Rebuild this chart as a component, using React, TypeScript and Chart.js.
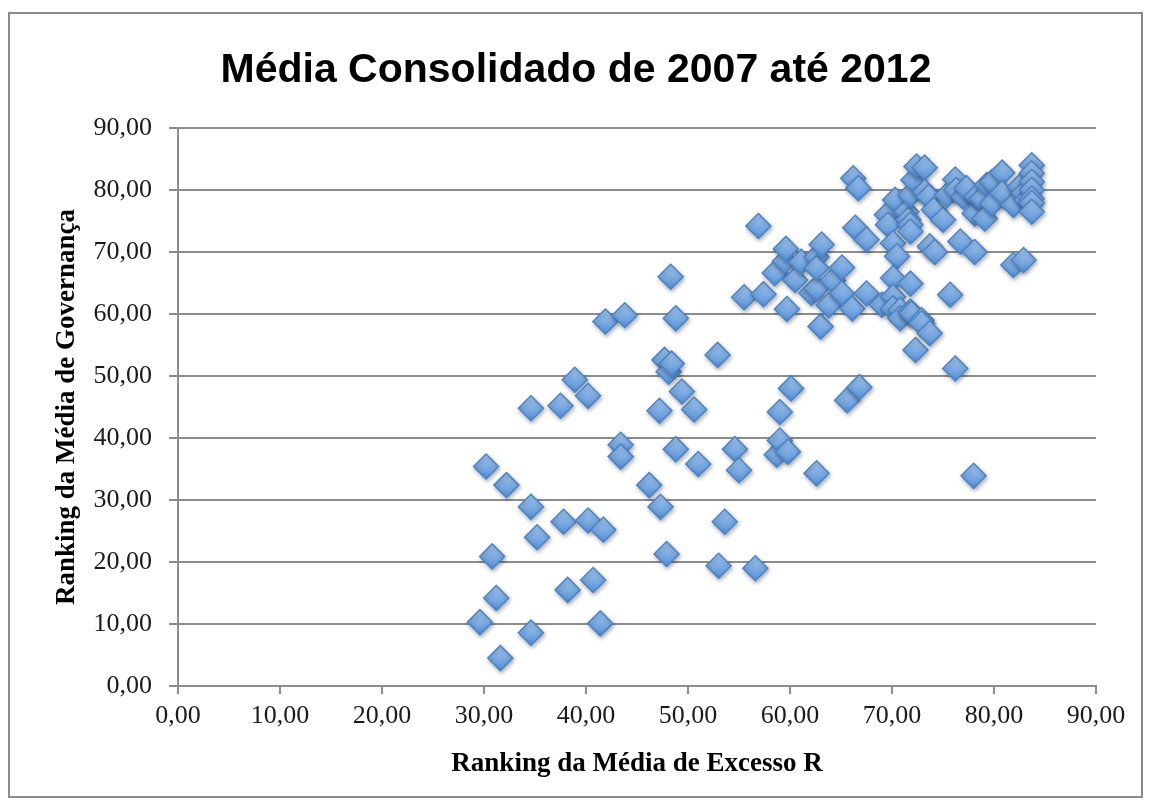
import { useEffect, useRef } from 'react';
import { Chart, registerables } from 'chart.js';

Chart.register(...registerables);

const chartTitle = 'Média Consolidado de 2007 até 2012';
const xAxisTitle = 'Ranking da Média de Excesso R';
const yAxisTitle = 'Ranking da Média de Governança';
const tickValues = [0, 10, 20, 30, 40, 50, 60, 70, 80, 90];

const excessoR = [
  29.6, 30.2, 30.8, 31.2, 31.6, 32.2, 34.6, 34.6, 34.6, 35.2,
  37.5, 37.8, 38.2, 38.9, 40.2, 40.2, 40.7, 41.4, 41.7, 41.9,
  43.4, 43.4, 43.8, 46.2, 47.2, 47.3, 47.7, 47.9, 48.1, 48.3,
  48.4, 48.8, 48.8, 49.4, 50.6, 51.0, 52.9, 53.0, 53.6, 54.6,
  55.0, 55.5, 56.6, 56.9, 57.4, 58.5, 58.7, 59.0, 59.0, 59.5,
  59.6, 59.7, 59.8, 60.1, 60.5, 61.1, 62.1, 62.6, 62.6, 62.6,
  62.6, 63.0, 63.1, 63.8, 64.2, 65.1, 65.1, 65.6, 66.4, 66.1,
  66.2, 66.7, 66.8, 67.5, 67.5, 69.0, 69.5, 69.6, 70.1, 70.5,
  70.1, 70.1, 70.1, 70.3, 70.8, 70.8, 71.4, 71.6, 71.8, 71.8,
  71.8, 71.8, 71.8, 71.9, 72.1, 72.3, 72.4, 72.9, 72.9, 73.2,
  73.2, 73.6, 73.7, 73.7, 74.1, 74.2, 75.0, 75.4, 75.7, 76.2,
  76.2, 76.3, 76.7, 77.0, 77.3, 78.0, 78.1, 78.1, 78.3, 78.8,
  79.1, 79.3, 79.8, 79.8, 80.8, 80.8, 81.9, 81.9, 82.5, 82.9,
  82.9, 83.2, 83.7, 83.7, 83.7, 83.7, 83.7, 83.7, 83.7,
];

const governanca = [
  10.3, 35.4, 20.9, 14.2, 4.5, 32.4, 44.8, 28.9, 8.6, 24.0,
  45.2, 26.5, 15.5, 49.4, 46.8, 26.7, 17.1, 10.1, 25.2, 58.8,
  38.9, 37.0, 59.8, 32.4, 44.4, 28.9, 52.6, 21.3, 50.7, 66.0,
  52.0, 38.2, 59.3, 47.5, 44.6, 35.8, 53.4, 19.4, 26.5, 38.2,
  34.8, 62.7, 19.0, 74.2, 63.2, 66.6, 37.3, 44.2, 39.6, 68.5,
  70.5, 60.8, 37.8, 48.0, 65.5, 68.4, 63.4, 64.1, 69.2, 67.4,
  34.3, 58.0, 71.2, 61.4, 65.4, 67.5, 63.3, 46.1, 73.9, 60.9,
  81.9, 80.3, 48.2, 72.0, 63.3, 61.5, 76.0, 74.4, 71.4, 69.3,
  65.8, 62.8, 60.9, 78.4, 60.6, 59.3, 76.5, 75.2, 74.4, 73.3,
  79.2, 64.9, 60.4, 60.1, 81.6, 54.2, 83.8, 59.0, 58.5, 83.6,
  79.7, 78.9, 70.9, 56.9, 76.8, 70.0, 75.2, 79.2, 63.1, 51.2,
  81.7, 80.0, 71.7, 78.9, 80.3, 33.9, 70.0, 76.2, 78.9, 78.6,
  75.4, 80.8, 81.3, 77.8, 82.8, 79.5, 77.6, 67.9, 80.5, 79.5,
  68.7, 78.4, 84.0, 82.7, 81.3, 80.0, 78.6, 77.9, 76.5,
];

const fmt = (v: number) => v.toFixed(2).replace('.', ',');

export default function App() {
  const ref = useRef<HTMLCanvasElement>(null);

  useEffect(() => {
    document.body.style.margin = '0';
    const canvas = ref.current;
    if (!canvas) return;

    const framePlugin = {
      id: 'frame',
      beforeDraw(chart: any) {
        const c = chart.ctx;
        c.save();
        c.fillStyle = '#ffffff';
        c.fillRect(0, 0, chart.width, chart.height);
        c.strokeStyle = '#8c8c8c';
        c.lineWidth = 2;
        c.strokeRect(9, 13, 1133, 784);
        c.fillStyle = '#000000';
        c.font = 'bold 41px "Liberation Sans", Arial, sans-serif';
        c.textAlign = 'center';
        c.textBaseline = 'alphabetic';
        c.fillText(chartTitle, 576, 82);
        c.restore();
      },
      beforeDatasetsDraw(chart: any) {
        const c = chart.ctx;
        c.save();
        c.shadowColor = 'rgba(0,0,0,0.3)';
        c.shadowBlur = 4;
        c.shadowOffsetX = 1;
        c.shadowOffsetY = 2;
      },
      afterDatasetsDraw(chart: any) {
        chart.ctx.restore();
      },
    };

    const points = excessoR.map((x, i) => ({ x, y: governanca[i] }));

    const chart = new Chart(canvas, {
      type: 'scatter',
      data: {
        datasets: [
          {
            data: points,
            pointStyle: 'rectRot',
            pointRadius: 12.5,
            pointHoverRadius: 12.5,
            borderWidth: 1.5,
            borderColor: '#4b84c6',
            backgroundColor: (ctx: any) => {
              const chart = ctx.chart;
              const fallback = '#72a5e2';
              if (!ctx.parsed || !chart.scales || !chart.scales.y) return fallback;
              const py = chart.scales.y.getPixelForValue(ctx.parsed.y);
              if (!Number.isFinite(py)) return fallback;
              const g = chart.ctx.createLinearGradient(0, py - 12, 0, py + 12);
              g.addColorStop(0, '#a3c8f3');
              g.addColorStop(1, '#5891d6');
              return g;
            },
          },
        ],
      },
      options: {
        responsive: false,
        animation: false,
        events: [],
        layout: { padding: { left: 30, right: 55, top: 128, bottom: 20 } },
        plugins: {
          legend: { display: false },
          title: { display: false },
          tooltip: { enabled: false },
        },
        scales: {
          x: {
            type: 'linear',
            min: 0,
            max: 90,
            afterFit: (s: any) => { s.height = 99; },
            afterBuildTicks: (s: any) => { s.ticks = tickValues.map((v) => ({ value: v })); },
            grid: { drawOnChartArea: false, drawTicks: true, tickLength: 8, color: '#8c8c8c', lineWidth: 2 },
            border: { display: true, color: '#8c8c8c', width: 2 },
            ticks: {
              color: '#1a1a1a',
              padding: 7,
              maxRotation: 0,
              font: { family: '"Liberation Serif", "Times New Roman", serif', size: 26 },
              callback: (v: any) => fmt(Number(v)),
            },
            title: {
              display: true,
              text: xAxisTitle,
              color: '#000000',
              padding: { top: 0, bottom: 5 },
              font: { family: '"Liberation Serif", "Times New Roman", serif', size: 27, weight: 'bold' },
            },
          },
          y: {
            type: 'linear',
            min: 0,
            max: 90,
            afterFit: (s: any) => { s.width = 148; },
            afterBuildTicks: (s: any) => { s.ticks = tickValues.map((v) => ({ value: v })); },
            grid: { drawOnChartArea: true, drawTicks: true, tickLength: 9, color: '#8c8c8c', lineWidth: 2 },
            border: { display: true, color: '#8c8c8c', width: 2 },
            ticks: {
              color: '#1a1a1a',
              padding: 17,
              font: { family: '"Liberation Serif", "Times New Roman", serif', size: 26 },
              callback: (v: any) => fmt(Number(v)),
            },
            title: {
              display: true,
              text: yAxisTitle,
              color: '#000000',
              padding: { top: 21, bottom: 0 },
              font: { family: '"Liberation Serif", "Times New Roman", serif', size: 27, weight: 'bold' },
            },
          },
        },
      },
      plugins: [framePlugin],
    } as any);

    return () => chart.destroy();
  }, []);

  return (
    <div style={{ width: 1151, height: 805 }}>
      <canvas ref={ref} width={1151} height={805} style={{ display: 'block' }} />
    </div>
  );
}
